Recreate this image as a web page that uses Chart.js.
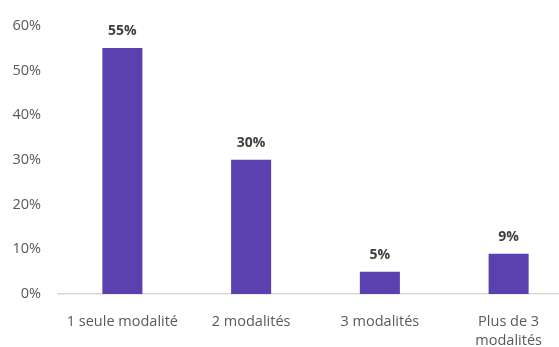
<!DOCTYPE html>
<html>
<head>
<meta charset="utf-8">
<script src="https://cdn.jsdelivr.net/npm/chart.js@4"></script>
<style>
  html, body { margin: 0; padding: 0; background: #fff; overflow: hidden; }
  #frame { width: 559px; height: 347px; overflow: hidden; position: relative; }
  #wrap { width: 573px; height: 347px; position: relative; }
</style>
</head>
<body>
<div id="frame"><div id="wrap"><canvas id="c"></canvas></div></div>
<script>
// Répartition par nombre de modalités (%)
const categories = ["1 seule modalité", "2 modalités", "3 modalités", ["Plus de 3", "modalités"]];
const values = [55, 30, 5, 9];
const yTicks = [0, 10, 20, 30, 40, 50, 60];

const barColor = "#5b41b0";
const textColor = "#595959";
const fontFamily = "'Open Sans', 'Liberation Sans', sans-serif";

// Étiquettes de valeur au-dessus des barres
const valueLabels = {
  id: "valueLabels",
  afterDatasetsDraw(chart) {
    const ctx = chart.ctx;
    const meta = chart.getDatasetMeta(0);
    ctx.save();
    ctx.font = "bold 14px " + fontFamily;
    ctx.fillStyle = "#404040";
    ctx.textAlign = "center";
    ctx.textBaseline = "middle";
    meta.data.forEach((bar, i) => {
      ctx.fillText(values[i] + "%", bar.x, bar.y - 17);
    });
    ctx.restore();
  }
};

new Chart(document.getElementById("c"), {
  type: "bar",
  data: {
    labels: categories,
    datasets: [{
      data: values,
      backgroundColor: barColor,
      categoryPercentage: 1,
      barPercentage: 0.311
    }]
  },
  options: {
    responsive: true,
    maintainAspectRatio: false,
    animation: false,
    layout: { padding: { top: 22, right: 0, left: 0, bottom: 0 } },
    plugins: {
      legend: { display: false },
      tooltip: { enabled: false }
    },
    scales: {
      x: {
        grid: { display: false, drawTicks: false },
        border: { display: true, color: "#d9d9d9", width: 1.5 },
        ticks: {
          color: textColor,
          font: { family: fontFamily, size: 14.5, lineHeight: 1.35 },
          padding: 18,
          maxRotation: 0,
          autoSkip: false
        },
        afterFit(scale) { scale.height = 53; }
      },
      y: {
        min: 0,
        max: 60,
        afterBuildTicks(scale) { scale.ticks = yTicks.map(v => ({ value: v })); },
        grid: { display: false, drawTicks: false },
        border: { display: false },
        ticks: {
          color: textColor,
          font: { family: fontFamily, size: 14.5 },
          padding: 17,
          callback: v => v + "%"
        },
        afterFit(scale) { scale.width = 58; }
      }
    }
  },
  plugins: [valueLabels]
});
</script>
</body>
</html>
